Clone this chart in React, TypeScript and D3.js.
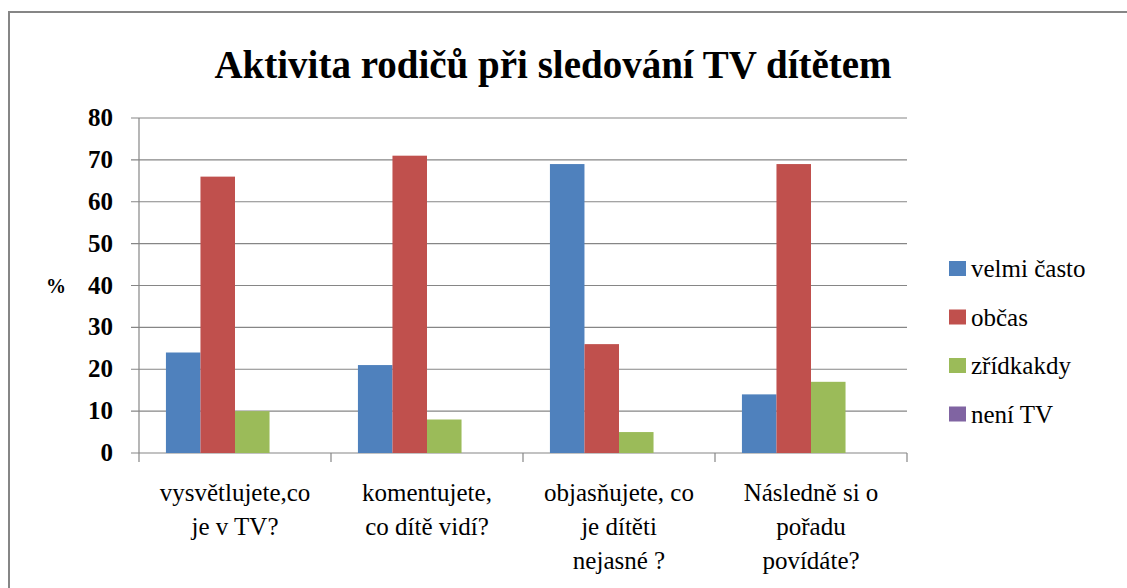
import React from "react";
import * as d3 from "d3";

// data
const categories = [
  ["vysvětlujete,co", "je v TV?"],
  ["komentujete,", "co dítě vidí?"],
  ["objasňujete, co", "je dítěti", "nejasné ?"],
  ["Následně si o", "pořadu", "povídáte?"],
];
const seriesNames = ["velmi často", "občas", "zřídkakdy", "není TV"];
const velmiCasto = [24, 21, 69, 14];
const obcas = [66, 71, 26, 69];
const zridkakdy = [10, 8, 5, 17];
const neniTV = [0, 0, 0, 0];
const yTicks = [0, 10, 20, 30, 40, 50, 60, 70, 80];
const colors = ["#4F81BD", "#C0504D", "#9BBB59", "#8064A2"];

const seriesValues = [velmiCasto, obcas, zridkakdy, neniTV];

const W = 1127;
const H = 588;
const plot = { left: 139, right: 907, top: 118, bottom: 453 };
const css = `
  .chart text { font-family: "Liberation Serif", "Times New Roman", serif !important; }
`;

const App = () => {
  const x = d3
    .scaleBand<number>()
    .domain(categories.map((_, i) => i))
    .range([plot.left, plot.right]);
  const inner = d3
    .scaleBand<number>()
    .domain(seriesNames.map((_, i) => i))
    .range([0, x.bandwidth()])
    .paddingOuter(0.78)
    .paddingInner(0);
  const y = d3.scaleLinear().domain([0, 80]).range([plot.bottom, plot.top]);

  return (
    <svg
      className="chart"
      width={W}
      height={H}
      style={{ position: "absolute", left: 0, top: 0, display: "block" }}
    >
      <style>{css}</style>
      {/* chart border */}
      <rect x={9} y={12} width={W} height={H} fill="none" stroke="#868686" strokeWidth={2} />

      <text x={553} y={78} textAnchor="middle" fontWeight="bold" fontSize={39}>
        Aktivita rodičů při sledování TV dítětem
      </text>

      {/* gridlines + y ticks */}
      {yTicks.map((t) => (
        <g key={t}>
          <line x1={plot.left - 8} x2={plot.right} y1={y(t)} y2={y(t)} stroke="#868686" strokeWidth={1.2} />
          <text x={113} y={y(t) + 8} textAnchor="end" fontWeight="bold" fontSize={25}>
            {t}
          </text>
        </g>
      ))}
      <line x1={plot.left} x2={plot.left} y1={plot.top} y2={plot.bottom} stroke="#868686" strokeWidth={1.2} />
      <text x={56} y={293} textAnchor="middle" fontWeight="bold" fontSize={20}>
        %
      </text>

      {/* category ticks */}
      {[...categories.map((_, i) => x(i)!), plot.right].map((px, i) => (
        <line key={i} x1={px} x2={px} y1={plot.bottom} y2={plot.bottom + 9} stroke="#868686" strokeWidth={1.2} />
      ))}

      {/* bars */}
      {seriesValues.map((vals, s) =>
        vals.map((v, i) => (
          <rect
            key={`${s}-${i}`}
            x={x(i)! + inner(s)!}
            y={y(v)}
            width={inner.bandwidth()}
            height={plot.bottom - y(v)}
            fill={colors[s]}
          />
        ))
      )}

      {/* category labels */}
      {categories.map((lines, i) => (
        <text key={i} textAnchor="middle" fontSize={25}>
          {lines.map((ln, j) => (
            <tspan key={j} x={x(i)! + x.bandwidth() / 2} y={501 + j * 34}>
              {ln}
            </tspan>
          ))}
        </text>
      ))}

      {/* legend */}
      {seriesNames.map((name, s) => (
        <g key={name} transform={`translate(949, ${269 + s * 48.5})`}>
          <rect x={0} y={-8} width={17} height={15} fill={colors[s]} />
          <text x={22} y={8} fontSize={25}>
            {name}
          </text>
        </g>
      ))}
    </svg>
  );
};

export default App;
